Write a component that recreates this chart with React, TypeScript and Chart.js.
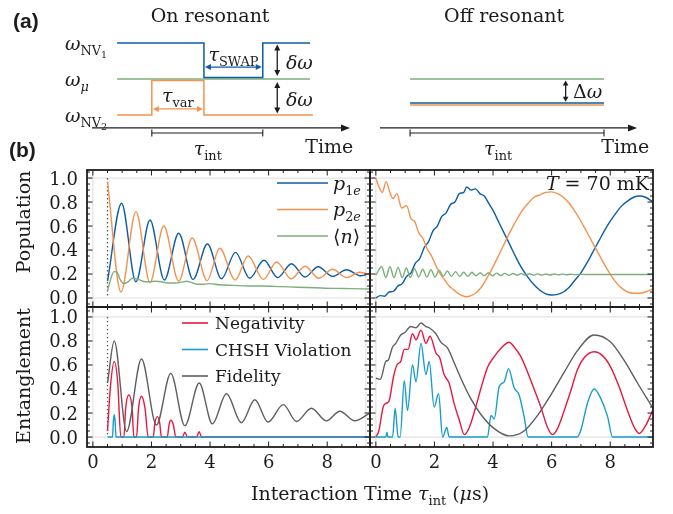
import React, { useEffect, useRef } from "react";
import { Chart, registerables } from "chart.js";

Chart.register(...registerables);

const W = 673;
const H = 514;

const SERIF = "'DejaVu Serif', 'DejaVu Sans', serif";
const SANS = "'Liberation Sans', Arial, sans-serif";
const INK = "#1c1c1c";

const C_BLUE = "#0C5DA5";
const C_ORANGE = "#F4924F";
const C_GREEN = "#7DAF7D";
const C_RED = "#E8173F";
const C_CYAN = "#1A9CCA";
const C_GRAY = "#5E5E5E";

type P = [number, number];

// ---------------- (a) schematic values (schematic time units / frequency levels)
const ON_X_RANGE = [-1.3, 12.07];
const OFF_X_RANGE = [-1.55, 11.7];
const SCHEM_Y_RANGE = [-2, 1.5];
const ON_NV1: P[] = [[0, 1], [4.5, 0.04], [7.55, 1], [10, 1]];
const ON_MU: P[] = [[0, 0], [10, 0]];
const ON_NV2: P[] = [[0, -1], [1.8, -0.04], [4.5, -1], [10.15, -1]];
const ON_SWAP = [4.5, 7.55];
const ON_VAR = [1.8, 4.5];
const ON_INT = [1.8, 7.55];
const OFF_MU: P[] = [[0, 0], [10, 0]];
const OFF_NV1: P[] = [[0, -0.67], [10, -0.67]];
const OFF_NV2: P[] = [[0, -0.72], [10, -0.72]];
const OFF_INT = [0, 10];
const TIME_AXIS_LEVEL = -1.36;
const INT_BAR_LEVEL = -1.5;

// ---------------- (b) axes
const X_RANGE = [-0.2, 9.46];
const Y_RANGE_TOP = [-0.075, 1.067];
const Y_RANGE_BOTTOM = [-0.083, 1.083];
const X_MAJOR = [0, 2, 4, 6, 8];
const X_TICK_LABELS = ["0", "2", "4", "6", "8"];
const Y_MAJOR = [0, 0.2, 0.4, 0.6, 0.8, 1.0];
const Y_TICK_LABELS = ["0.0", "0.2", "0.4", "0.6", "0.8", "1.0"];
const X_MINOR_STEP = 0.5;
const Y_MINOR_STEP = 0.05;
const START_TIME = 0.5;
const GRID_Y = [0, 1];
const GRID_X_LEFT = [0, 9.32];
const GRID_X_RIGHT = [0];

// ---------------- on resonant populations
const P1E_ON: P[] = [
  [0.5, 0.14], [0.98, 0.79], [1.47, 0.135], [1.95, 0.65], [2.44, 0.15], [2.93, 0.54],
  [3.42, 0.155], [3.91, 0.45], [4.39, 0.16], [4.87, 0.38], [5.35, 0.165], [5.84, 0.315],
  [6.31, 0.17], [6.78, 0.285], [7.24, 0.175], [7.69, 0.26], [8.18, 0.18], [8.66, 0.235],
  [9.15, 0.185], [9.5, 0.21],
];
const P2E_ON: P[] = [
  [0.5, 0.97], [0.96, 0.05], [1.47, 0.72], [1.95, 0.13], [2.42, 0.6], [2.93, 0.14],
  [3.39, 0.5], [3.9, 0.145], [4.33, 0.415], [4.86, 0.15], [5.3, 0.35], [5.82, 0.155],
  [6.27, 0.3], [6.77, 0.16], [7.24, 0.265], [7.71, 0.165], [8.18, 0.24], [8.67, 0.17],
  [9.11, 0.215], [9.5, 0.19],
];
const N_ON: P[] = [
  [0.5, 0.06], [0.6, 0.15], [0.72, 0.22], [0.82, 0.215], [0.92, 0.16], [1.05, 0.12],
  [1.2, 0.135], [1.35, 0.165], [1.5, 0.16], [1.7, 0.14], [1.9, 0.135], [2.15, 0.14],
  [2.35, 0.135], [2.55, 0.125], [2.8, 0.125], [3.0, 0.13], [3.2, 0.14], [3.35, 0.13],
  [3.55, 0.115], [3.8, 0.115], [4.0, 0.12], [4.3, 0.11], [4.8, 0.105], [5.3, 0.1],
  [5.8, 0.1], [6.4, 0.095], [7.0, 0.09], [7.6, 0.085], [8.2, 0.08], [8.8, 0.078], [9.5, 0.075],
];

// ---------------- off resonant populations (T = 70 mK)
const P1E_OFF: P[] = [
  [0, 0.0], [0.15, 0.02], [0.3, 0.015], [0.45, 0.05], [0.6, 0.055], [0.75, 0.1], [0.9, 0.12],
  [1.05, 0.18], [1.2, 0.21], [1.35, 0.29], [1.5, 0.33], [1.65, 0.42], [1.8, 0.47], [1.95, 0.56],
  [2.1, 0.6], [2.25, 0.68], [2.4, 0.71], [2.55, 0.78], [2.7, 0.8], [2.85, 0.87], [3.0, 0.88],
  [3.1, 0.925], [3.25, 0.9], [3.4, 0.91], [3.55, 0.87], [3.7, 0.85], [3.85, 0.79], [4.0, 0.73],
  [4.2, 0.63], [4.4, 0.53], [4.6, 0.43], [4.8, 0.33], [5.0, 0.24], [5.2, 0.17], [5.4, 0.11],
  [5.6, 0.065], [5.8, 0.035], [6.0, 0.025], [6.2, 0.03], [6.4, 0.05], [6.6, 0.09], [6.8, 0.15],
  [7.0, 0.21], [7.2, 0.29], [7.4, 0.38], [7.6, 0.47], [7.8, 0.56], [8.0, 0.64], [8.2, 0.71],
  [8.4, 0.77], [8.6, 0.81], [8.8, 0.84], [9.0, 0.85], [9.2, 0.84], [9.4, 0.81], [9.5, 0.79],
];
const P2E_OFF: P[] = [
  [0, 1.0], [0.1, 0.93], [0.22, 0.88], [0.35, 0.97], [0.48, 0.88], [0.58, 0.83], [0.72, 0.87],
  [0.88, 0.75], [1.05, 0.77], [1.2, 0.66], [1.32, 0.64], [1.47, 0.54], [1.6, 0.5], [1.75, 0.41],
  [1.9, 0.35], [2.05, 0.27], [2.2, 0.2], [2.35, 0.15], [2.5, 0.1], [2.65, 0.07], [2.8, 0.04],
  [2.95, 0.02], [3.1, 0.01], [3.25, 0.02], [3.4, 0.04], [3.6, 0.09], [3.8, 0.17], [4.0, 0.26],
  [4.2, 0.36], [4.4, 0.46], [4.6, 0.56], [4.8, 0.65], [5.0, 0.73], [5.2, 0.79], [5.4, 0.84],
  [5.6, 0.86], [5.8, 0.88], [6.0, 0.885], [6.2, 0.87], [6.4, 0.84], [6.6, 0.79], [6.8, 0.72],
  [7.0, 0.64], [7.2, 0.55], [7.4, 0.46], [7.6, 0.37], [7.8, 0.28], [8.0, 0.2], [8.2, 0.13],
  [8.4, 0.08], [8.6, 0.05], [8.8, 0.04], [9.0, 0.04], [9.2, 0.05], [9.4, 0.07], [9.5, 0.08],
];
const N_OFF: P[] = [
  [0, 0.19], [0.2, 0.26], [0.34, 0.17], [0.48, 0.26], [0.62, 0.17], [0.76, 0.255], [0.9, 0.17],
  [1.04, 0.25], [1.18, 0.17], [1.32, 0.245], [1.46, 0.175], [1.6, 0.24], [1.74, 0.175],
  [1.88, 0.235], [2.02, 0.175], [2.16, 0.23], [2.3, 0.18], [2.44, 0.225], [2.58, 0.18],
  [2.72, 0.22], [2.86, 0.18], [3.0, 0.215], [3.14, 0.18], [3.28, 0.215], [3.42, 0.185],
  [3.56, 0.21], [3.7, 0.185], [3.84, 0.21], [3.98, 0.185], [4.12, 0.207], [4.26, 0.187],
  [4.4, 0.205], [4.54, 0.188], [4.68, 0.204], [4.82, 0.19], [4.96, 0.203], [5.1, 0.19],
  [5.24, 0.202], [5.38, 0.19], [5.52, 0.201], [5.66, 0.191], [5.8, 0.2], [5.94, 0.192],
  [6.08, 0.2], [6.22, 0.193], [6.36, 0.199], [6.5, 0.194], [6.64, 0.198], [6.78, 0.195],
  [7.0, 0.197], [7.5, 0.196], [8.0, 0.196], [8.5, 0.196], [9.0, 0.196], [9.5, 0.196],
];

// ---------------- on resonant entanglement
const NEG_ON: P[] = [
  [0.5, 0.05], [0.6, 0.42], [0.73, 0.63], [0.85, 0.45], [0.955, 0], [1.06, 0], [1.12, 0.24],
  [1.23, 0.35], [1.34, 0.24], [1.4, 0], [1.49, 0], [1.56, 0.24], [1.66, 0.34], [1.78, 0.24],
  [1.89, 0], [2.06, 0], [2.12, 0.12], [2.2, 0.17], [2.28, 0.12], [2.34, 0], [2.54, 0],
  [2.6, 0.1], [2.66, 0.14], [2.75, 0.1], [2.83, 0], [3.06, 0], [3.14, 0.04], [3.23, 0],
  [3.54, 0], [3.63, 0.045], [3.71, 0], [9.46, 0],
];
const CHSH_ON: P[] = [
  [0.5, 0], [0.67, 0], [0.7, 0.13], [0.73, 0.185], [0.76, 0.13], [0.79, 0], [9.46, 0],
];
const FID_ON: P[] = [
  [0.5, 0.45], [0.73, 0.8], [1.15, 0.045], [1.66, 0.65], [2.17, 0.1], [2.66, 0.53],
  [3.14, 0.095], [3.63, 0.45], [4.08, 0.11], [4.56, 0.36], [5.07, 0.12], [5.53, 0.31],
  [5.98, 0.125], [6.5, 0.27], [6.95, 0.13], [7.46, 0.24], [7.97, 0.135], [8.43, 0.215],
  [8.94, 0.135], [9.46, 0.2],
];

// ---------------- off resonant entanglement
const NEG_OFF: P[] = [
  [0, 0], [0.1, 0.05], [0.25, 0.25], [0.34, 0.28], [0.45, 0.3], [0.6, 0.5], [0.72, 0.6],
  [0.85, 0.63], [0.97, 0.73], [1.1, 0.73], [1.25, 0.86], [1.37, 0.81], [1.54, 0.89],
  [1.71, 0.78], [1.85, 0.84], [2.05, 0.7], [2.18, 0.66], [2.33, 0.52], [2.5, 0.45],
  [2.67, 0.28], [2.85, 0.14], [3.02, 0.02], [3.19, 0.08], [3.41, 0.25], [3.58, 0.4],
  [3.81, 0.58], [4.04, 0.67], [4.27, 0.74], [4.55, 0.79], [4.72, 0.75], [4.95, 0.67],
  [5.18, 0.54], [5.4, 0.4], [5.63, 0.25], [5.86, 0.08], [6.03, 0.02], [6.2, 0.07],
  [6.43, 0.22], [6.66, 0.39], [6.88, 0.56], [7.11, 0.66], [7.45, 0.71], [7.73, 0.68],
  [8.02, 0.58], [8.3, 0.42], [8.59, 0.22], [8.82, 0.08], [8.99, 0.03], [9.22, 0.1], [9.46, 0.23],
];
const CHSH_OFF: P[] = [
  [0, 0], [0.34, 0], [0.38, 0.04], [0.41, 0], [0.57, 0], [0.66, 0.24], [0.76, 0], [0.83, 0],
  [0.97, 0.47], [1.08, 0.22], [1.25, 0.6], [1.37, 0.46], [1.54, 0.78], [1.71, 0.52],
  [1.82, 0.63], [1.99, 0.25], [2.14, 0.36], [2.28, 0], [2.42, 0.08], [2.5, 0], [3.81, 0],
  [3.93, 0.18], [4.04, 0.15], [4.21, 0.42], [4.38, 0.46], [4.53, 0.57], [4.72, 0.41],
  [4.89, 0.35], [5.06, 0.17], [5.2, 0], [6.88, 0], [7.0, 0.06], [7.22, 0.28], [7.45, 0.4],
  [7.68, 0.32], [7.91, 0.17], [8.08, 0], [9.46, 0],
];
const FID_OFF: P[] = [
  [0, 0.49], [0.15, 0.48], [0.34, 0.63], [0.42, 0.64], [0.57, 0.75], [0.68, 0.78],
  [0.85, 0.85], [0.99, 0.87], [1.19, 0.92], [1.37, 0.91], [1.54, 0.95], [1.71, 0.92],
  [1.82, 0.91], [2.05, 0.86], [2.22, 0.79], [2.45, 0.74], [2.67, 0.62], [2.9, 0.49],
  [3.24, 0.32], [3.58, 0.19], [4.04, 0.07], [4.55, 0.01], [5.06, 0.05], [5.52, 0.18],
  [5.97, 0.35], [6.43, 0.54], [6.88, 0.72], [7.45, 0.85], [8.02, 0.79], [8.47, 0.64],
  [8.93, 0.45], [9.46, 0.24],
];

// ---------------- layout (pixel boxes of each plotting area)
type Rect = { l: number; t: number; r: number; b: number };
const RECT_ON: Rect = { l: 92, t: 25, r: 350, b: 151 };
const RECT_OFF: Rect = { l: 380, t: 25, r: 637, b: 151 };
const RECT_TL: Rect = { l: 87, t: 170, r: 370, b: 307 };
const RECT_TR: Rect = { l: 370, t: 170, r: 653, b: 307 };
const RECT_BL: Rect = { l: 87, t: 307, r: 370, b: 447 };
const RECT_BR: Rect = { l: 370, t: 307, r: 653, b: 447 };

// ---------------- text helpers
type Seg = { t: string; it?: boolean; sc?: number; dy?: number };
const fontFor = (s: Seg, size: number) =>
  `${s.it ? "italic " : ""}${(size * (s.sc ?? 1)).toFixed(1)}px ${SERIF}`;
const sub = (t: string, it = false): Seg => ({ t, it, sc: 0.68, dy: 0.26 });
const subsub = (t: string): Seg => ({ t, sc: 0.5, dy: 0.42 });

function drawRich(ctx: CanvasRenderingContext2D, segs: Seg[], x: number, y: number, size: number,
  align: "left" | "center" | "right" = "left", color = INK) {
  let w = 0;
  for (const s of segs) { ctx.font = fontFor(s, size); w += ctx.measureText(s.t).width; }
  let cx = align === "left" ? x : align === "center" ? x - w / 2 : x - w;
  ctx.save();
  ctx.fillStyle = color;
  ctx.textAlign = "left";
  ctx.textBaseline = "alphabetic";
  for (const s of segs) {
    ctx.font = fontFor(s, size);
    ctx.fillText(s.t, cx, y + (s.dy ?? 0) * size);
    cx += ctx.measureText(s.t).width;
  }
  ctx.restore();
}

function line(ctx: CanvasRenderingContext2D, x1: number, y1: number, x2: number, y2: number) {
  ctx.beginPath(); ctx.moveTo(x1, y1); ctx.lineTo(x2, y2); ctx.stroke();
}

function head(ctx: CanvasRenderingContext2D, x: number, y: number, ang: number, len: number, hw: number) {
  ctx.beginPath();
  ctx.moveTo(x, y);
  ctx.lineTo(x - len * Math.cos(ang) + hw * Math.sin(ang), y - len * Math.sin(ang) - hw * Math.cos(ang));
  ctx.lineTo(x - len * Math.cos(ang) - hw * Math.sin(ang), y - len * Math.sin(ang) + hw * Math.cos(ang));
  ctx.closePath();
  ctx.fill();
}

function arrow(ctx: CanvasRenderingContext2D, x1: number, y1: number, x2: number, y2: number,
  color: string, both: boolean, len = 6, hw = 3, lw = 1.3) {
  ctx.save();
  ctx.strokeStyle = color; ctx.fillStyle = color; ctx.lineWidth = lw;
  const ang = Math.atan2(y2 - y1, x2 - x1);
  const dx = Math.cos(ang) * len * 0.8, dy = Math.sin(ang) * len * 0.8;
  line(ctx, both ? x1 + dx : x1, both ? y1 + dy : y1, x2 - dx, y2 - dy);
  head(ctx, x2, y2, ang, len, hw);
  if (both) head(ctx, x1, y1, ang + Math.PI, len, hw);
  ctx.restore();
}

function intervalBar(ctx: CanvasRenderingContext2D, x1: number, x2: number, y: number) {
  ctx.save();
  ctx.strokeStyle = INK; ctx.lineWidth = 1.1;
  line(ctx, x1, y, x2, y);
  line(ctx, x1, y - 3.5, x1, y + 3.5);
  line(ctx, x2, y - 3.5, x2, y + 3.5);
  ctx.restore();
}

const pts = (a: P[]) => a.map(([x, y]) => ({ x, y }));
const padOf = (r: Rect) => ({ left: r.l, top: r.t, right: W - r.r, bottom: H - r.b });

// ---------------- schematic
const OMEGA_NV1: Seg[] = [{ t: "ω", it: true }, sub("NV"), subsub("1")];
const OMEGA_NV2: Seg[] = [{ t: "ω", it: true }, sub("NV"), subsub("2")];
const OMEGA_MU: Seg[] = [{ t: "ω", it: true }, sub("μ", true)];
const TAU_SWAP: Seg[] = [{ t: "τ", it: true }, sub("SWAP")];
const TAU_VAR: Seg[] = [{ t: "τ", it: true }, sub("var")];
const TAU_INT: Seg[] = [{ t: "τ", it: true }, sub("int")];
const DELTA_W: Seg[] = [{ t: "δω", it: true }];
const BIG_DELTA_W: Seg[] = [{ t: "Δ" }, { t: "ω", it: true }];

function schemConfig(kind: "on" | "off") {
  const on = kind === "on";
  const rect = on ? RECT_ON : RECT_OFF;
  const xr = on ? ON_X_RANGE : OFF_X_RANGE;
  const ds = (data: P[], color: string) => ({
    data: pts(data), borderColor: color, borderWidth: 1.5, stepped: "before", pointRadius: 0, fill: false,
  });
  const datasets = on
    ? [ds(ON_NV1, C_BLUE), ds(ON_NV2, C_ORANGE), ds(ON_MU, C_GREEN)]
    : [ds(OFF_NV1, C_BLUE), ds(OFF_NV2, C_ORANGE), ds(OFF_MU, C_GREEN)];
  const plugin = {
    id: "schemDecor" + kind,
    afterDatasetsDraw(chart: any) {
      const ctx: CanvasRenderingContext2D = chart.ctx;
      const px = (v: number) => chart.scales.x.getPixelForValue(v);
      const py = (v: number) => chart.scales.y.getPixelForValue(v);
      const S = 19;
      const mid = (cy: number) => cy + 0.36 * S;
      arrow(ctx, px(xr[0]), py(TIME_AXIS_LEVEL), px(xr[1]), py(TIME_AXIS_LEVEL), INK, false, 9, 3.5, 1.3);
      if (on) {
        drawRich(ctx, [{ t: "On resonant" }], px(4.82), mid(py(1.78)), S, "center");
        drawRich(ctx, OMEGA_NV1, px(-2.7), mid(py(1)), S);
        drawRich(ctx, OMEGA_MU, px(-2.7), mid(py(0)), S);
        drawRich(ctx, OMEGA_NV2, px(-2.7), mid(py(-1)), S);
        arrow(ctx, px(ON_SWAP[0]) + 1, py(0.33), px(ON_SWAP[1]) - 1, py(0.33), C_BLUE, true);
        drawRich(ctx, TAU_SWAP, px(6.03), mid(py(0.7)), S, "center");
        arrow(ctx, px(ON_VAR[0]) + 1, py(-0.83), px(ON_VAR[1]) - 1, py(-0.83), C_ORANGE, true);
        drawRich(ctx, TAU_VAR, px(3.15), mid(py(-0.46)), S, "center");
        arrow(ctx, px(8.3), py(0.96), px(8.3), py(0.08), INK, true);
        arrow(ctx, px(8.3), py(-0.08), px(8.3), py(-0.96), INK, true);
        drawRich(ctx, DELTA_W, px(8.75), mid(py(0.47)), S);
        drawRich(ctx, DELTA_W, px(8.75), mid(py(-0.56)), S);
        intervalBar(ctx, px(ON_INT[0]), px(ON_INT[1]), py(INT_BAR_LEVEL));
        drawRich(ctx, TAU_INT, px(4.7), mid(py(-1.93)), S, "center");
        drawRich(ctx, [{ t: "Time" }], px(11.0), mid(py(-1.86)), S, "center");
        ctx.save();
        ctx.fillStyle = INK;
        ctx.font = `bold 21px ${SANS}`;
        ctx.textAlign = "left";
        ctx.textBaseline = "alphabetic";
        ctx.fillText("(a)", 13, 28);
        ctx.fillText("(b)", 9, 157);
        ctx.restore();
      } else {
        drawRich(ctx, [{ t: "Off resonant" }], px(4.85), mid(py(1.78)), S, "center");
        arrow(ctx, px(8.02), py(-0.04), px(8.02), py(-0.63), INK, true, 5, 2.8);
        drawRich(ctx, BIG_DELTA_W, px(8.4), mid(py(-0.33)), S);
        intervalBar(ctx, px(OFF_INT[0]), px(OFF_INT[1]), py(INT_BAR_LEVEL));
        drawRich(ctx, TAU_INT, px(4.54), mid(py(-1.93)), S, "center");
        drawRich(ctx, [{ t: "Time" }], px(11.1), mid(py(-1.86)), S, "center");
      }
    },
  };
  return {
    type: "line",
    data: { datasets },
    options: {
      responsive: false, animation: false, events: [],
      layout: { padding: padOf(rect) },
      plugins: { legend: { display: false }, tooltip: { enabled: false }, title: { display: false } },
      scales: {
        x: { type: "linear", min: xr[0], max: xr[1], display: false },
        y: { type: "linear", min: SCHEM_Y_RANGE[0], max: SCHEM_Y_RANGE[1], display: false },
      },
    },
    plugins: [plugin],
  };
}

// ---------------- data panels
type LegendItem = { color: string; segs: Seg[] };
type PanelOpts = {
  id: string;
  rect: Rect;
  yRange: number[];
  xLabels: boolean;
  yLabels: boolean;
  gridX: number[];
  dotted: boolean;
  yTitle?: { text: string; cy: number };
  xTitle?: boolean;
  legend?: { items: LegendItem[]; x1: number; x2: number; tx: number; y0: number; dy: number; size: number };
  note?: Seg[];
};

const LEGEND_POP: LegendItem[] = [
  { color: C_BLUE, segs: [{ t: "p", it: true }, sub("1"), sub("e", true)] },
  { color: C_ORANGE, segs: [{ t: "p", it: true }, sub("2"), sub("e", true)] },
  { color: C_GREEN, segs: [{ t: "⟨" }, { t: "n", it: true }, { t: "⟩" }] },
];
const LEGEND_ENT: LegendItem[] = [
  { color: C_RED, segs: [{ t: "Negativity" }] },
  { color: C_CYAN, segs: [{ t: "CHSH Violation" }] },
  { color: C_GRAY, segs: [{ t: "Fidelity" }] },
];
const NOTE_T: Seg[] = [{ t: "T", it: true }, { t: " = 70 mK" }];
const X_TITLE: Seg[] = [{ t: "Interaction Time " }, { t: "τ", it: true }, sub("int"), { t: " (" }, { t: "μ", it: true }, { t: "s)" }];

function valuesOnStep(min: number, max: number, step: number, skip: number) {
  const out: number[] = [];
  const start = Math.ceil(min / step - 1e-9);
  for (let k = start; k * step <= max + 1e-9; k++) {
    const v = k * step;
    const r = v / skip;
    if (Math.abs(r - Math.round(r)) < 1e-6) continue;
    out.push(v);
  }
  return out;
}

function panelPlugin(o: PanelOpts) {
  return {
    id: "panel" + o.id,
    beforeDatasetsDraw(chart: any) {
      const ctx: CanvasRenderingContext2D = chart.ctx;
      const a = chart.chartArea;
      const xs = chart.scales.x, ys = chart.scales.y;
      ctx.save();
      ctx.strokeStyle = "#e3e3e3";
      ctx.lineWidth = 1.2;
      for (const g of GRID_Y) { const p = ys.getPixelForValue(g); line(ctx, a.left, p, a.right, p); }
      for (const g of o.gridX) { const p = xs.getPixelForValue(g); line(ctx, p, a.top, p, a.bottom); }
      if (o.dotted) {
        ctx.strokeStyle = "#555555";
        ctx.lineWidth = 1.3;
        ctx.setLineDash([1.4, 2.6]);
        const p = xs.getPixelForValue(START_TIME);
        line(ctx, p, ys.getPixelForValue(1.0), p, ys.getPixelForValue(0));
      }
      ctx.restore();
    },
    afterDatasetsDraw(chart: any) {
      const ctx: CanvasRenderingContext2D = chart.ctx;
      const a = chart.chartArea;
      const xs = chart.scales.x, ys = chart.scales.y;
      ctx.save();
      ctx.strokeStyle = INK;
      ctx.lineWidth = 1;
      for (const v of X_MAJOR) {
        const p = xs.getPixelForValue(v);
        line(ctx, p, a.bottom, p, a.bottom - 5.5);
        line(ctx, p, a.top, p, a.top + 5.5);
      }
      for (const v of valuesOnStep(X_RANGE[0], X_RANGE[1], X_MINOR_STEP, 2)) {
        const p = xs.getPixelForValue(v);
        line(ctx, p, a.bottom, p, a.bottom - 3);
        line(ctx, p, a.top, p, a.top + 3);
      }
      for (const v of Y_MAJOR) {
        const p = ys.getPixelForValue(v);
        line(ctx, a.left, p, a.left + 5.5, p);
        line(ctx, a.right, p, a.right - 5.5, p);
      }
      for (const v of valuesOnStep(o.yRange[0], o.yRange[1], Y_MINOR_STEP, 0.2)) {
        const p = ys.getPixelForValue(v);
        line(ctx, a.left, p, a.left + 3, p);
        line(ctx, a.right, p, a.right - 3, p);
      }
      ctx.lineWidth = 1.8;
      ctx.strokeRect(a.left, a.top, a.right - a.left, a.bottom - a.top);
      ctx.restore();

      const TS = 18;
      if (o.yLabels) {
        Y_MAJOR.forEach((v, i) => {
          drawRich(ctx, [{ t: Y_TICK_LABELS[i] }], a.left - 9, ys.getPixelForValue(v) + 0.36 * TS, TS, "right");
        });
      }
      if (o.xLabels) {
        X_MAJOR.forEach((v, i) => {
          drawRich(ctx, [{ t: X_TICK_LABELS[i] }], xs.getPixelForValue(v), a.bottom + 21, TS, "center");
        });
      }
      if (o.yTitle) {
        ctx.save();
        ctx.translate(30, o.yTitle.cy);
        ctx.rotate(-Math.PI / 2);
        drawRich(ctx, [{ t: o.yTitle.text }], 0, 0, 19, "center");
        ctx.restore();
      }
      if (o.xTitle) {
        drawRich(ctx, X_TITLE, a.right, 500, 19, "center");
      }
      if (o.legend) {
        const L = o.legend;
        L.items.forEach((it, i) => {
          const y = a.top + L.y0 + i * L.dy;
          ctx.save();
          ctx.strokeStyle = it.color;
          ctx.lineWidth = 1.6;
          line(ctx, L.x1, y, L.x2, y);
          ctx.restore();
          drawRich(ctx, it.segs, L.tx, y + 0.36 * L.size, L.size);
        });
      }
      if (o.note) {
        drawRich(ctx, o.note, a.right - 4, a.top + 13 + 0.36 * 19, 19, "right");
      }
    },
  };
}

function panelConfig(o: PanelOpts, series: { data: P[]; color: string }[]) {
  return {
    type: "line",
    data: {
      datasets: series.map((s) => ({
        data: pts(s.data), borderColor: s.color, borderWidth: 1.4, pointRadius: 0, fill: false,
        cubicInterpolationMode: "monotone",
      })),
    },
    options: {
      responsive: false, animation: false, events: [],
      layout: { padding: padOf(o.rect) },
      plugins: { legend: { display: false }, tooltip: { enabled: false }, title: { display: false } },
      scales: {
        x: { type: "linear", min: X_RANGE[0], max: X_RANGE[1], display: false },
        y: { type: "linear", min: o.yRange[0], max: o.yRange[1], display: false },
      },
    },
    plugins: [panelPlugin(o)],
  };
}

function buildConfigs() {
  const tl = panelConfig(
    {
      id: "tl", rect: RECT_TL, yRange: Y_RANGE_TOP, xLabels: false, yLabels: true, gridX: GRID_X_LEFT, dotted: true,
      yTitle: { text: "Population", cy: 222 },
      legend: { items: LEGEND_POP, x1: 277, x2: 328, tx: 333, y0: 13, dy: 26.5, size: 19 },
    },
    [{ data: N_ON, color: C_GREEN }, { data: P2E_ON, color: C_ORANGE }, { data: P1E_ON, color: C_BLUE }],
  );
  const tr = panelConfig(
    { id: "tr", rect: RECT_TR, yRange: Y_RANGE_TOP, xLabels: false, yLabels: false, gridX: GRID_X_RIGHT, dotted: false, note: NOTE_T },
    [{ data: N_OFF, color: C_GREEN }, { data: P2E_OFF, color: C_ORANGE }, { data: P1E_OFF, color: C_BLUE }],
  );
  const bl = panelConfig(
    {
      id: "bl", rect: RECT_BL, yRange: Y_RANGE_BOTTOM, xLabels: true, yLabels: true, gridX: GRID_X_LEFT, dotted: true,
      yTitle: { text: "Entanglement", cy: 376 }, xTitle: true,
      legend: { items: LEGEND_ENT, x1: 182, x2: 208, tx: 215, y0: 16, dy: 26.5, size: 17 },
    },
    [{ data: FID_ON, color: C_GRAY }, { data: CHSH_ON, color: C_CYAN }, { data: NEG_ON, color: C_RED }],
  );
  const br = panelConfig(
    { id: "br", rect: RECT_BR, yRange: Y_RANGE_BOTTOM, xLabels: true, yLabels: false, gridX: GRID_X_RIGHT, dotted: false },
    [{ data: FID_OFF, color: C_GRAY }, { data: CHSH_OFF, color: C_CYAN }, { data: NEG_OFF, color: C_RED }],
  );
  return [schemConfig("on"), schemConfig("off"), tl, tr, bl, br];
}

export default function App() {
  const canvases = useRef<(HTMLCanvasElement | null)[]>([]);
  useEffect(() => {
    const configs = buildConfigs();
    const charts = configs.map((cfg, i) => new Chart(canvases.current[i] as HTMLCanvasElement, cfg as any));
    return () => charts.forEach((c) => c.destroy());
  }, []);
  return (
    <div style={{ position: "absolute", left: 0, top: 0, width: W, height: H, background: "#fff", overflow: "hidden" }}>
      {[0, 1, 2, 3, 4, 5].map((i) => (
        <canvas
          key={i}
          ref={(el) => { canvases.current[i] = el; }}
          width={W}
          height={H}
          style={{ position: "absolute", left: 0, top: 0, width: W, height: H }}
        />
      ))}
    </div>
  );
}
